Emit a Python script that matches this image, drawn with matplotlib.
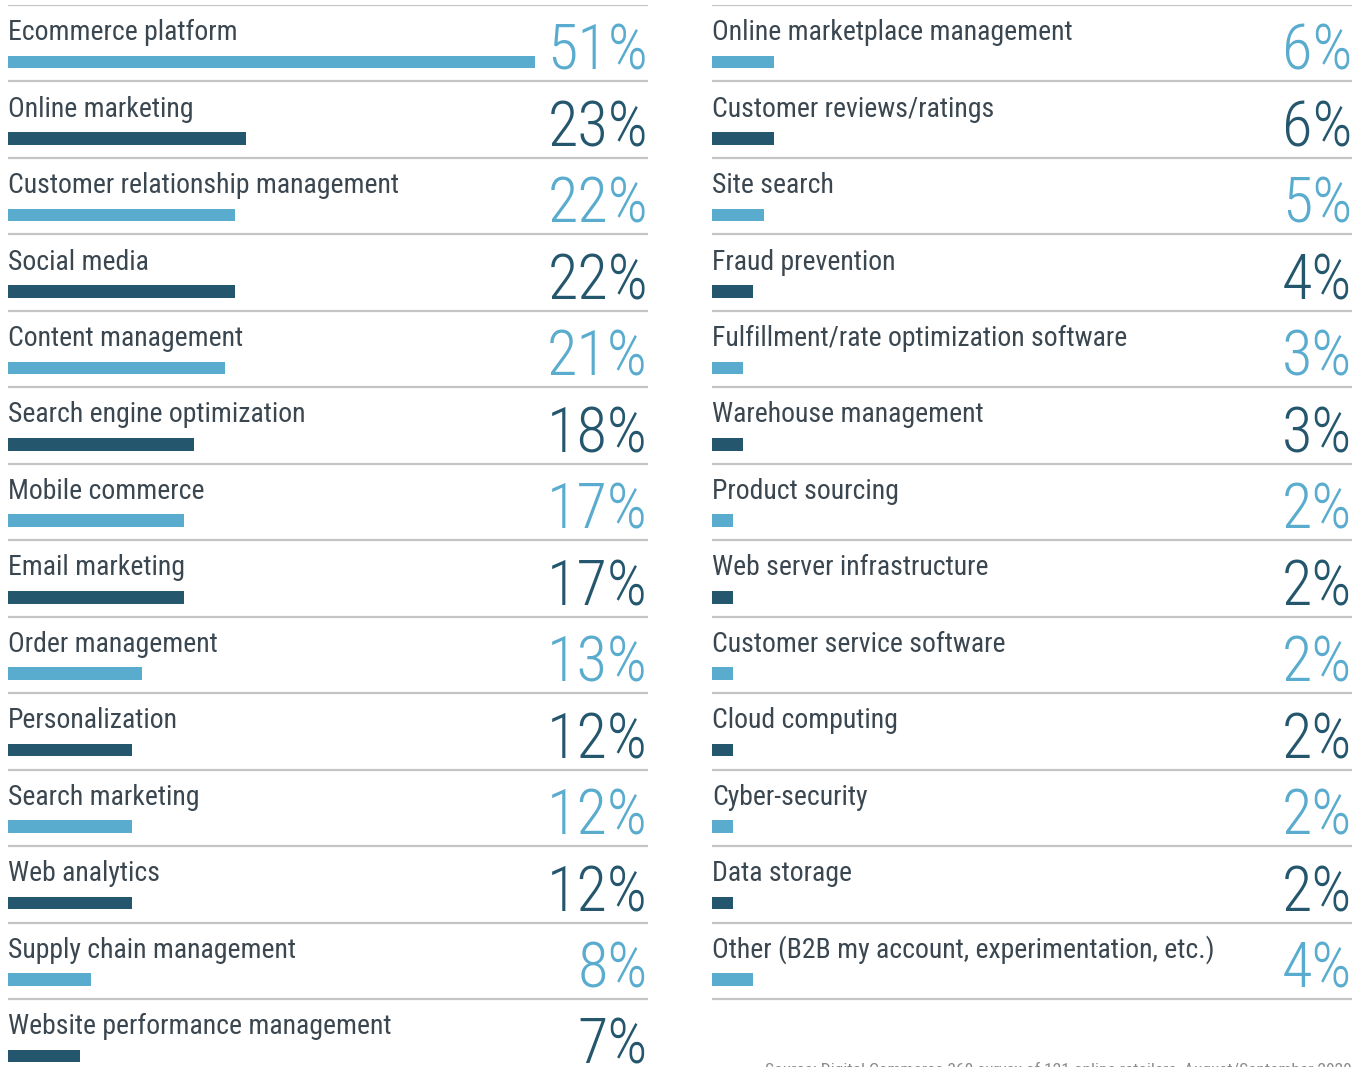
#Recreates the two-column "technology priorities" bar list

import numpy as np
import matplotlib
matplotlib.use('Agg')
import matplotlib.pyplot as plt

# condensed faces first if present, Roboto otherwise
plt.rcParams['font.family'] = ['Roboto Condensed', 'DejaVu Sans Condensed',
                               'Liberation Sans Narrow', 'Roboto', 'DejaVu Sans']

left_labels = ["Ecommerce platform", "Online marketing", "Customer relationship management",
               "Social media", "Content management", "Search engine optimization",
               "Mobile commerce", "Email marketing", "Order management", "Personalization",
               "Search marketing", "Web analytics", "Supply chain management",
               "Website performance management"]
left_values = [51, 23, 22, 22, 21, 18, 17, 17, 13, 12, 12, 12, 8, 7]

right_labels = ["Online marketplace management", "Customer reviews/ratings", "Site search",
                "Fraud prevention", "Fulfillment/rate optimization software",
                "Warehouse management", "Product sourcing", "Web server infrastructure",
                "Customer service software", "Cloud computing", "Cyber-security",
                "Data storage", "Other (B2B my account, experimentation, etc.)"]
right_values = [6, 6, 5, 4, 3, 3, 2, 2, 2, 2, 2, 2, 4]

source = "Source: Digital Commerce 360 survey of 121 online retailers, August/September 2020"

LIGHT = '#5aaccf'
DARK = '#24566d'
TEXT = '#3b4750'
RULE = '#c4c4c4'

W, H = 1367, 1067
fig = plt.figure(figsize=(W / 100, H / 100), dpi=100)

pitch = 994 / 13          # px per row
px_per_pct = 10.33        # bar length in px per percent
col_w = 640
xmax = col_w / px_per_pct


def column(x0, labels, values):
    ax = fig.add_axes([x0 / W, 1 - (5 + 14 * pitch) / H, col_w / W, 14 * pitch / H])
    ax.set_xlim(0, xmax)
    ax.set_ylim(14, 0)
    ax.axis('off')
    rows = np.arange(len(values))
    colors = [LIGHT if i % 2 == 0 else DARK for i in rows]
    ax.hlines(np.arange(14), 0, xmax, color=RULE, lw=1.6)
    ax.barh(rows + 0.745, values, height=0.165, left=0, color=colors)
    for i, (lab, v) in enumerate(zip(labels, values)):
        ax.text(0, i + 0.46, lab, fontsize=20, color=TEXT, va='baseline', ha='left')
        ax.text(xmax, i + 0.85, f"{v}%", fontsize=45, weight='light',
                color=colors[i], va='baseline', ha='right')
    return ax


column(8, left_labels, left_values)
column(712, right_labels, right_values)

fig.text(1352 / W, 1 - 1062 / H, source, fontsize=12.5, color='#8a8a8a',
         ha='right', va='top')

fig.savefig('out.png', dpi=100)
